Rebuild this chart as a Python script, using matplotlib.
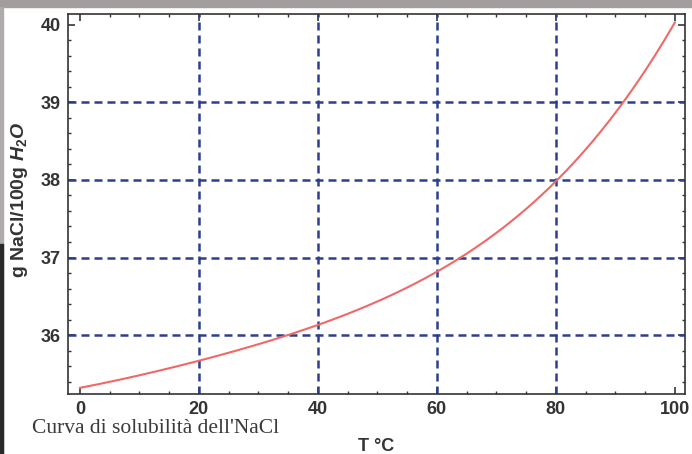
import numpy as np
import matplotlib.pyplot as plt
from matplotlib.patches import Rectangle
from matplotlib.ticker import MultipleLocator

plt.rcParams['mathtext.fontset'] = 'custom'
plt.rcParams['mathtext.rm'] = 'Liberation Sans:bold'
plt.rcParams['mathtext.it'] = 'Liberation Sans:italic:bold'

# solubility curve
temp = [0, 10, 20, 30, 40, 50, 60, 70, 80, 90, 100]
solub = [35.32, 35.48, 35.67, 35.88, 36.13, 36.44, 36.81, 37.32, 37.98, 38.87, 40.03]

x_ticks = [0, 20, 40, 60, 80, 100]
y_ticks = [36, 37, 38, 39, 40]
x_grid = [20, 40, 60, 80]
y_grid = [36, 37, 38, 39]

fig = plt.figure(figsize=(6.92, 4.54), dpi=100)

# frame of the scanned figure
fig.patches.append(Rectangle((0, 1 - 7 / 454), 1, 7 / 454, transform=fig.transFigure,
                             color='#a39d9d', zorder=0))
fig.patches.append(Rectangle((0, 0), 3 / 692, 1 - 7 / 454, transform=fig.transFigure,
                             color='#b0abab', zorder=0))
fig.patches.append(Rectangle((0, 0), 3 / 692, 210 / 454, transform=fig.transFigure,
                             color='#2a2828', zorder=0))

ax = fig.add_axes([68 / 692, 60 / 454, 617 / 692, 380 / 454])

# smooth the read values for drawing
tt = np.linspace(0, 100, 300)
coef = np.polyfit(temp, solub, 4)
ax.plot(tt, np.polyval(coef, tt), color='#f06868', lw=1.5, zorder=3)

grid_style = dict(color='#2c3f8e', lw=1.8, linestyle=(0, (3.2, 2.0)), zorder=2)
for gx in x_grid:
    ax.axvline(gx, **grid_style)
for gy in y_grid:
    ax.axhline(gy, **grid_style)

ax.set_xlim(-2, 101.7)
ax.set_ylim(35.24, 40.14)
ax.set_xticks(x_ticks)
ax.set_yticks(y_ticks)
ax.xaxis.set_minor_locator(MultipleLocator(5))
ax.yaxis.set_minor_locator(MultipleLocator(0.2))

ax.tick_params(which='both', direction='in', top=True, right=True, color='#333344')
ax.tick_params(which='major', length=5, width=1.2, labelsize=13, pad=5)
ax.tick_params(which='minor', length=2.5, width=1)
for lab in ax.get_xticklabels() + ax.get_yticklabels():
    lab.set_fontfamily('Liberation Sans')
    lab.set_fontweight('bold')
    lab.set_color('#333333')
for s in ax.spines.values():
    s.set_color('#333333')
    s.set_linewidth(1.2)

ax.set_xlabel('T °C', fontfamily='Liberation Sans', fontweight='bold', fontsize=13,
              color='#333333')
ax.xaxis.set_label_coords(0.5, -0.115)
ax.set_ylabel('g NaCl/100g $H_2O$', fontfamily='Liberation Sans', fontweight='bold',
              fontsize=14, color='#333333')
ax.yaxis.set_label_coords(-0.062, 0.51)

fig.text(32 / 692, 1 - 433 / 454, "Curva di solubilità dell'NaCl", fontfamily='Liberation Serif',
         fontsize=15.5, color='#3a3a3a', va='baseline')

fig.savefig('out.png', dpi=100)
